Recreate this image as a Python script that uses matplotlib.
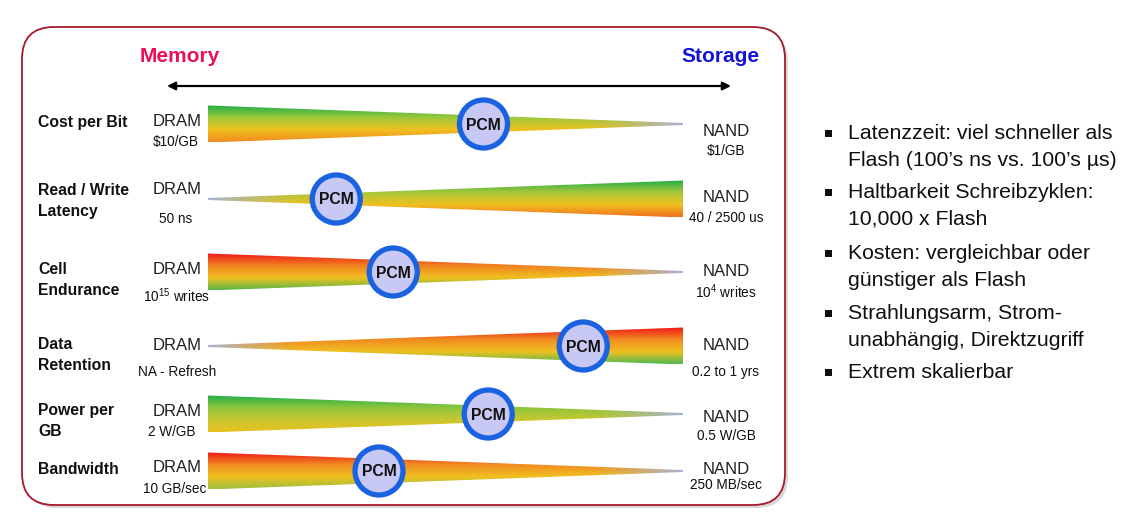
import numpy as np
import matplotlib
matplotlib.use("Agg")
import matplotlib.pyplot as plt
from matplotlib.patches import Polygon, FancyBboxPatch, Circle, Rectangle
from matplotlib.colors import to_rgb

plt.rcParams['font.family'] = ['Liberation Sans', 'DejaVu Sans']
plt.rcParams['mathtext.fontset'] = 'custom'
plt.rcParams['mathtext.rm'] = 'Liberation Sans'
plt.rcParams['mathtext.default'] = 'regular'

# ---- data ----
row_labels = ["Cost per Bit", "Read / Write\nLatency", "Cell\nEndurance",
              "Data\nRetention", "Power per\nGB", "Bandwidth"]
dram_values = ["$10/GB", "50 ns", "10$^{15}$ writes", "NA - Refresh", "2 W/GB", "10 GB/sec"]
nand_values = ["$1/GB", "40 / 2500 us", "10$^{4}$ writes", "0.2 to 1 yrs", "0.5 W/GB", "250 MB/sec"]
# position of PCM along the DRAM->NAND scale (0 = DRAM, 1 = NAND)
pcm_position = [0.58, 0.27, 0.39, 0.79, 0.59, 0.36]
# which end of the wedge is wide
wide_end = ["left", "right", "left", "right", "left", "left"]
# vertical gradient colours (top -> bottom)
gradients = [
    ["#1fae4a", "#9cc83a", "#f0c020", "#f08a20"],
    ["#1fae4a", "#a8c838", "#f0c020", "#f07020"],
    ["#f01818", "#f08020", "#f0c020", "#58b848"],
    ["#f01818", "#f08a20", "#f0c020", "#50b850"],
    ["#1fae4a", "#8cc43c", "#c8c830", "#e8c020"],
    ["#f01818", "#f08a20", "#f0c020", "#9cc040"],
]
bullets = ["Latenzzeit: viel schneller als\nFlash (100\u2019s ns vs. 100\u2019s \u00b5s)",
           "Haltbarkeit Schreibzyklen:\n10,000 x Flash",
           "Kosten: vergleichbar oder\ng\u00fcnstiger als Flash",
           "Strahlungsarm, Strom-\nunabh\u00e4ngig, Direktzugriff",
           "Extrem skalierbar"]

# ---- layout ----
W, H = 1145, 530
fig = plt.figure(figsize=(W / 100, H / 100), dpi=100)
ax = fig.add_axes([0, 0, 1, 1])
ax.set_xlim(0, W)
ax.set_ylim(H, 0)
ax.axis('off')

# rounded frame with soft shadow
shadow = FancyBboxPatch((25, 30), 763, 478, boxstyle="round,pad=0,rounding_size=32",
                        fc="#d8d8d8", ec="none", zorder=0)
ax.add_patch(shadow)
frame = FancyBboxPatch((22, 27), 763, 478, boxstyle="round,pad=0,rounding_size=32",
                       fc="white", ec="#a8182c", lw=1.3, zorder=1)
ax.add_patch(frame)

ax.text(180, 57, "Memory", color="#e8105a", fontsize=15, fontweight="bold",
        ha="center", va="center", zorder=3)
ax.text(720, 57, "Storage", color="#1414d8", fontsize=15, fontweight="bold",
        ha="center", va="center", zorder=3)
ax.annotate("", xy=(167, 86), xytext=(731, 86),
            arrowprops=dict(arrowstyle="<|-|>", color="black", lw=1.6,
                            mutation_scale=12, shrinkA=0, shrinkB=0), zorder=3)

row_y = [124, 199, 272, 346, 414, 471]
x0, x1 = 208, 683
half = 18.5
tip_col = np.array(to_rgb("#a8b0d8"))

for i in range(len(row_labels)):
    yc = row_y[i]
    nrows, ncols = 80, 200
    stops = [np.array(to_rgb(c)) for c in gradients[i]]
    pos = np.linspace(0, 1, len(stops))
    v = np.linspace(0, 1, nrows)
    col = np.stack([np.interp(v, pos, [s[k] for s in stops]) for k in range(3)], axis=1)
    img = np.repeat(col[:, None, :], ncols, axis=1)
    t = np.linspace(0, 1, ncols)
    dist_from_wide = t if wide_end[i] == "left" else 1 - t
    blend = np.clip((dist_from_wide - 0.8) / 0.2, 0, 1) ** 1.5
    img = img * (1 - blend[None, :, None]) + tip_col[None, None, :] * blend[None, :, None]
    im = ax.imshow(img, extent=(x0, x1, yc + half, yc - half), origin="upper",
                   aspect="auto", interpolation="bilinear", zorder=2)
    if wide_end[i] == "left":
        pts = [(x0, yc - half), (x1, yc - 1), (x1, yc + 1), (x0, yc + half)]
    else:
        pts = [(x0, yc - 1), (x1, yc - half), (x1, yc + half), (x0, yc + 1)]
    poly = Polygon(pts, closed=True, fc="none", ec="none")
    ax.add_patch(poly)
    im.set_clip_path(poly)

    px = x0 + pcm_position[i] * (x1 - x0)
    ax.add_patch(Circle((px, yc), 24, fc="#c8c8f4", ec="#1a62e0", lw=3.8, zorder=4))
    ax.text(px, yc + 1, "PCM", fontsize=11.3, fontweight="bold", ha="center",
            va="center", color="#101010", zorder=5)

label_y = [123, 201, 280, 355, 421, 469]
for i in range(6):
    ax.text(38, label_y[i], row_labels[i], fontsize=11.3, fontweight="bold",
            ha="left", va="center", linespacing=1.42, zorder=3, color="#101010")

dram_y = [122, 189, 270, 346, 411, 468]
dram_sub_y = [142, 219, 296, 372, 432, 489]
dram_sub_x = [176, 176, 177, 177, 172, 175]
nand_y = [131, 198, 271, 346, 417, 469]
nand_sub_y = [151, 218, 292, 372, 436, 485]
for i in range(6):
    ax.text(177, dram_y[i], "DRAM", fontsize=12, ha="center", va="center",
            color="#202020", zorder=3)
    ax.text(dram_sub_x[i], dram_sub_y[i], dram_values[i], fontsize=9.8, ha="center",
            va="center", color="#101010", zorder=3)
    ax.text(726, nand_y[i], "NAND", fontsize=12, ha="center", va="center",
            color="#202020", zorder=3)
    ax.text(726, nand_sub_y[i], nand_values[i], fontsize=9.8, ha="center",
            va="center", color="#101010", zorder=3)

# bullets on the right
by = [147, 206, 267, 327, 372]
step = 27
for i, b in enumerate(bullets):
    first_line_y = by[i] - (step / 2 if "\n" in b else 0)
    ax.add_patch(Rectangle((825, first_line_y - 3.5), 7, 7, fc="#101010", ec="none"))
    ax.text(848, by[i], b, fontsize=15.3, ha="left", va="center",
            linespacing=1.5, color="#101010")

fig.savefig("out.png", dpi=100)
